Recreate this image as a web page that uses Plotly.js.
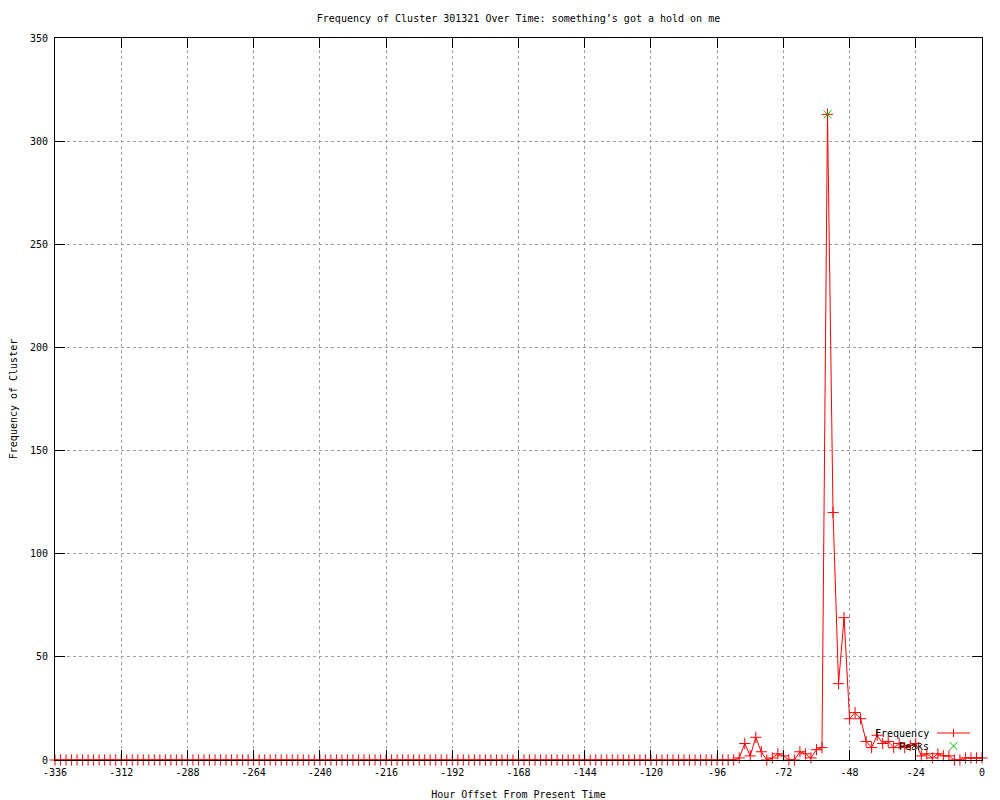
<!DOCTYPE html>
<html>
<head>
<meta charset="utf-8">
<script src="https://cdn.plot.ly/plotly-3.0.1.min.js"></script>
<style>html,body{margin:0;padding:0;background:#fff;}#chart{width:1000px;height:800px;}</style>
</head>
<body>
<div id="chart"></div>
<script>
const hours = [
  -336,-334,-332,-330,-328,-326,-324,-322,-320,-318,-316,-314,-312,-310,-308,-306,-304,-302,-300,-298,
  -296,-294,-292,-290,-288,-286,-284,-282,-280,-278,-276,-274,-272,-270,-268,-266,-264,-262,-260,-258,
  -256,-254,-252,-250,-248,-246,-244,-242,-240,-238,-236,-234,-232,-230,-228,-226,-224,-222,-220,-218,
  -216,-214,-212,-210,-208,-206,-204,-202,-200,-198,-196,-194,-192,-190,-188,-186,-184,-182,-180,-178,
  -176,-174,-172,-170,-168,-166,-164,-162,-160,-158,-156,-154,-152,-150,-148,-146,-144,-142,-140,-138,
  -136,-134,-132,-130,-128,-126,-124,-122,-120,-118,-116,-114,-112,-110,-108,-106,-104,-102,-100,-98,
  -96,-94,-92,-90,-88,-86,-84,-82,-80,-78,-76,-74,-72,-70,-68,-66,-64,-62,-60,-58,
  -56,-54,-52,-50,-48,-46,-44,-42,-40,-38,-36,-34,-32,-30,-28,-26,-24,-22,-20,-18,
  -16,-14,-12,-10,-8,-6,-4,-2,0
];
const frequency = [
  0,0,0,0,0,0,0,0,0,0,0,0,0,0,0,0,0,0,0,0,
  0,0,0,0,0,0,0,0,0,0,0,0,0,0,0,0,0,0,0,0,
  0,0,0,0,0,0,0,0,0,0,0,0,0,0,0,0,0,0,0,0,
  0,0,0,0,0,0,0,0,0,0,0,0,0,0,0,0,0,0,0,0,
  0,0,0,0,0,0,0,0,0,0,0,0,0,0,0,0,0,0,0,0,
  0,0,0,0,0,0,0,0,0,0,0,0,0,0,0,0,0,0,0,0,
  0,0,0,0,1,8,2,11,4,0,1,3,2,0,0,4,3,1,5,6,
  313,120,37,69,20,23,20,9,6,12,8,9,6,8,6,7,8,2,3,1,
  3,2,2,0,0,1,1,1,1
];
const peakHours = [-56];
const peakValues = [313];
const xTicks = [-336,-312,-288,-264,-240,-216,-192,-168,-144,-120,-96,-72,-48,-24,0];
const yTicks = [0,50,100,150,200,250,300,350];

const FONT = 'DejaVu Sans Mono, monospace';
const L = 55, R = 982, T = 38, B = 760;
const px = v => (v - L) / (R - L);
const py = v => (B - v) / (B - T);

const traces = [
  {x: hours, y: frequency, type: 'scatter', mode: 'lines+markers', name: 'Frequency',
   line: {color: '#ff0000', width: 1},
   marker: {symbol: 'cross-thin-open', size: 8, color: '#ff0000', line: {color: '#ff0000', width: 1}},
   showlegend: false, cliponaxis: false},
  {x: peakHours, y: peakValues, type: 'scatter', mode: 'markers', name: 'Peaks',
   marker: {symbol: 'x-thin-open', size: 8, color: '#00c000', line: {color: '#00c000', width: 1}},
   showlegend: false, cliponaxis: false}
];

const axisCommon = {
  showline: true, linecolor: '#000', linewidth: 1, mirror: 'ticks',
  ticks: 'inside', ticklen: 10, tickcolor: '#000', tickwidth: 1,
  showgrid: true, gridcolor: '#a0a0a0', griddash: 'dot', gridwidth: 1,
  zeroline: false, tickfont: {family: FONT, size: 10, color: '#000'}
};

const shapes = [
  {type: 'line', xref: 'paper', yref: 'paper', x0: px(937), x1: px(970), y0: py(733), y1: py(733), line: {color: '#ff0000', width: 1}},
  {type: 'line', xref: 'paper', yref: 'paper', x0: px(953.5), x1: px(953.5), y0: py(729), y1: py(737), line: {color: '#ff0000', width: 1}},
  {type: 'line', xref: 'paper', yref: 'paper', x0: px(949.5), x1: px(957.5), y0: py(742), y1: py(750), line: {color: '#00c000', width: 1}},
  {type: 'line', xref: 'paper', yref: 'paper', x0: px(949.5), x1: px(957.5), y0: py(750), y1: py(742), line: {color: '#00c000', width: 1}}
];

const annotations = [
  {xref: 'paper', yref: 'paper', x: px(931), y: py(733), xanchor: 'right', yanchor: 'middle', showarrow: false,
   text: 'Frequency', font: {family: FONT, size: 10, color: '#000'}},
  {xref: 'paper', yref: 'paper', x: px(931), y: py(746), xanchor: 'right', yanchor: 'middle', showarrow: false,
   text: 'Peaks', font: {family: FONT, size: 10, color: '#000'}}
];

const layout = {
  width: 1000, height: 800,
  margin: {l: L, r: 1000 - R, t: T, b: 800 - B},
  paper_bgcolor: '#fff', plot_bgcolor: '#fff',
  font: {family: FONT, size: 10, color: '#000'},
  title: {text: 'Frequency of Cluster 301321 Over Time: something’s got a hold on me',
          font: {family: FONT, size: 10, color: '#000'}, x: 0.5, xref: 'paper', y: 1 - 18/800, yref: 'container', yanchor: 'middle'},
  xaxis: Object.assign({}, axisCommon, {range: [-336, 0], tickvals: xTicks, ticktext: xTicks.map(String),
          ticklabelstandoff: 3,
          title: {text: 'Hour Offset From Present Time', font: {family: FONT, size: 10, color: '#000'}, standoff: 14}}),
  yaxis: Object.assign({}, axisCommon, {range: [0, 350], tickvals: yTicks, ticktext: yTicks.map(String),
          ticklabelstandoff: 4,
          title: {text: 'Frequency of Cluster', font: {family: FONT, size: 10, color: '#000'}, standoff: 10}}),
  shapes: shapes, annotations: annotations, showlegend: false
};

Plotly.newPlot('chart', traces, layout, {staticPlot: true, displayModeBar: false});
</script>
</body>
</html>
